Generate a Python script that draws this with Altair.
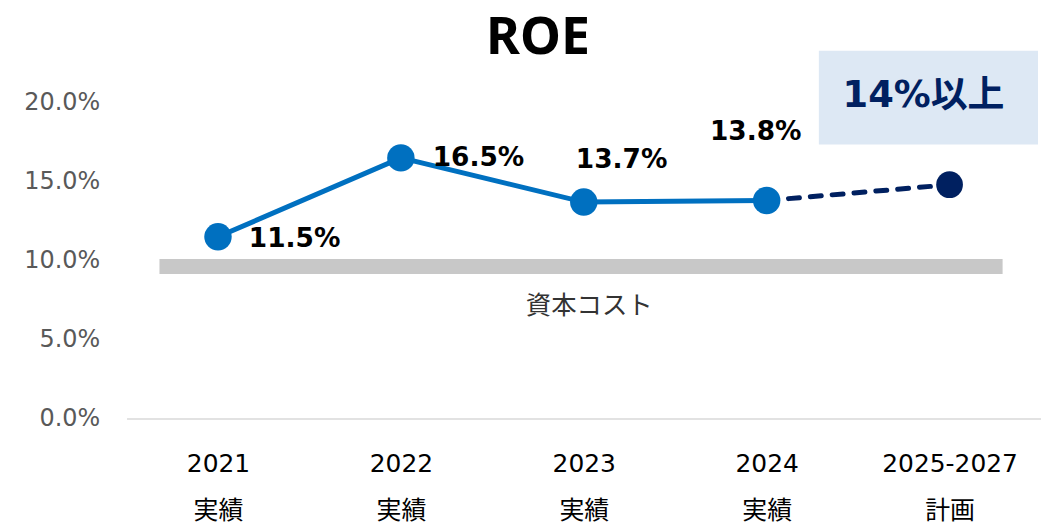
import altair as alt
import pandas as pd

years = ["2021", "2022", "2023", "2024", "2025-2027"]
kinds = ["実績", "実績", "実績", "実績", "計画"]
roe = [11.5, 16.5, 13.7, 13.8, 14.8]
roe_labels = ["11.5%", "16.5%", "13.7%", "13.8%"]
cost_low, cost_high = 9.15, 10.1
cost_label = "資本コスト"
target_label = "14%以上"
title_text = "ROE"

idx = list(range(len(years)))
df = pd.DataFrame({"i": idx, "year": years, "kind": kinds, "roe": roe})
actual = df.iloc[:4]
plan = df.iloc[3:]
labels_df = pd.DataFrame({"i": idx[:4], "roe": roe[:4], "label": roe_labels})

xscale = alt.Scale(domain=[-0.5, 4.5], nice=False, zero=False)
yscale = alt.Scale(domain=[0, 20], nice=False)

label_arr = "[" + ",".join(f"['{y}','{k}']" for y, k in zip(years, kinds)) + "]"

x_axis = alt.Axis(
    values=idx, labelExpr=f"{label_arr}[datum.value]", title=None, grid=False,
    ticks=False, domain=True, domainColor="#D9D9D9", domainWidth=1.5,
    labelFont="DejaVu Sans, Noto Sans CJK JP", labelFontSize=25, labelColor="#000000",
    labelLineHeight=47, labelPadding=33, labelBaseline="top",
)
y_axis = alt.Axis(
    values=[0, 5, 10, 15, 20], labelExpr="format(datum.value, '.1f') + '%'",
    title=None, grid=False, ticks=False, domain=False,
    labelFont="DejaVu Sans", labelFontSize=24, labelColor="#595959", labelPadding=27,
)


def X(f):
    return alt.X(f, scale=xscale, axis=x_axis)


def Y(f):
    return alt.Y(f, scale=yscale, axis=y_axis)


band_df = pd.DataFrame({"x0": [-0.32], "x1": [4.29], "y0": [cost_low], "y1": [cost_high]})
band = alt.Chart(band_df).mark_rect(color="#C8C8C8").encode(
    x=X("x0:Q"), x2="x1:Q", y=Y("y0:Q"), y2="y1:Q",
)

cost_text = alt.Chart(pd.DataFrame({"x": [2.03], "y": [7.1], "t": [cost_label]})).mark_text(
    font="Noto Sans CJK JP", fontSize=25.5, color="#333333"
).encode(x=X("x:Q"), y=Y("y:Q"), text="t:N")

line_actual = alt.Chart(actual).mark_line(color="#0070C0", strokeWidth=5).encode(
    x=X("i:Q"), y=Y("roe:Q")
)
line_plan = alt.Chart(plan).mark_line(
    color="#002060", strokeWidth=5, strokeDash=[11, 11], strokeCap="round"
).encode(x=X("i:Q"), y=Y("roe:Q"))

pts_actual = alt.Chart(actual).mark_circle(color="#0070C0", size=760, opacity=1).encode(
    x=X("i:Q"), y=Y("roe:Q")
)
pts_plan = alt.Chart(plan.iloc[1:]).mark_circle(color="#002060", size=720, opacity=1).encode(
    x=X("i:Q"), y=Y("roe:Q")
)

offsets = [(31, 2, "left"), (32, 0, "left"), (38, -42, "center"), (-11, -69, "center")]
label_layers = []
for k, (dx, dy, al) in enumerate(offsets):
    label_layers.append(
        alt.Chart(labels_df.iloc[[k]]).mark_text(
            font="DejaVu Sans", fontWeight="bold", fontSize=26.5, color="#000000",
            align=al, baseline="middle", dx=dx, dy=dy,
        ).encode(x=X("i:Q"), y=Y("roe:Q"), text="label:N")
    )

box = alt.Chart(pd.DataFrame({"a": [0]})).mark_rect(color="#DDE8F4").encode(
    x=alt.value(695), x2=alt.value(915), y=alt.value(-52), y2=alt.value(42)
)
box_text = alt.Chart(pd.DataFrame({"t": [target_label]})).mark_text(
    font="DejaVu Sans, Noto Sans CJK JP", fontWeight="bold", fontSize=37, color="#002060",
    align="center", baseline="middle",
).encode(x=alt.value(800), y=alt.value(-7), text="t:N")

title = alt.Chart(pd.DataFrame({"t": [title_text]})).mark_text(
    font="Noto Sans", fontWeight="bold", fontSize=52, color="#000000",
    align="center", baseline="middle",
).encode(x=alt.value(413), y=alt.value(-65), text="t:N")

chart = alt.layer(
    band, cost_text, line_actual, line_plan, pts_actual, pts_plan, *label_layers,
    box, box_text, title,
).properties(
    width=918, height=317,
    autosize=alt.AutoSizeParams(type="none"),
    padding={"left": 119, "top": 94, "right": 0, "bottom": 105},
).configure_view(stroke=None)

chart.save("out.html", embed_options={"renderer": "svg", "actions": False})
